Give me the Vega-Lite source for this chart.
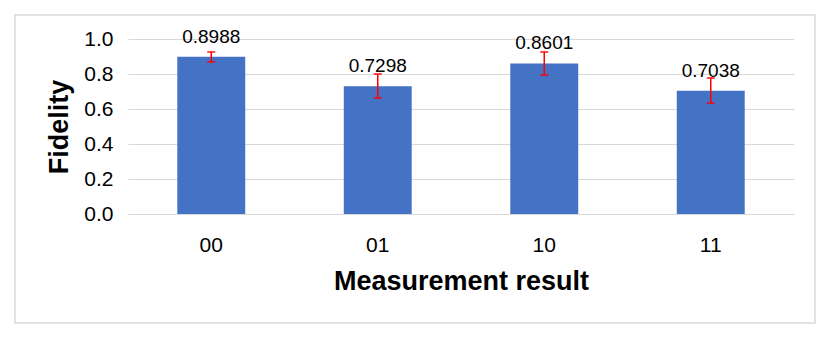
{
  "$schema": "https://vega.github.io/schema/vega-lite/v6.json",
  "width": 800,
  "height": 308,
  "autosize": {"type": "none"},
  "padding": {"left": 15, "top": 15, "right": 15, "bottom": 15},
  "background": "white",
  "data": {
    "values": [
      {"result": "00", "fidelity": 0.8988, "lo": 0.869, "hi": 0.926},
      {"result": "01", "fidelity": 0.7298, "lo": 0.663, "hi": 0.800},
      {"result": "10", "fidelity": 0.8601, "lo": 0.794, "hi": 0.926},
      {"result": "11", "fidelity": 0.7038, "lo": 0.634, "hi": 0.777}
    ]
  },
  "encoding": {
    "x": {
      "field": "result",
      "type": "nominal",
      "sort": null,
      "scale": {"range": [113, 779], "paddingInner": 0.592, "paddingOuter": 0.296},
      "axis": {
        "title": "Measurement result",
        "labelAngle": 0,
        "offset": -109,
        "labelPadding": 20,
        "titlePadding": 13,
        "ticks": false,
        "domain": false,
        "grid": false,
        "labelFont": "Liberation Sans",
        "labelFontSize": 21,
        "labelColor": "#000000",
        "titleFont": "Liberation Sans",
        "titleFontSize": 27,
        "titleFontWeight": "bold",
        "titleColor": "#000000"
      }
    }
  },
  "layer": [
    {
      "mark": {"type": "bar", "color": "#4472C4"},
      "encoding": {
        "y": {
          "field": "fidelity",
          "type": "quantitative",
          "scale": {"domain": [0, 1], "range": [199, 24], "nice": false},
          "axis": {
            "title": "Fidelity",
            "values": [0, 0.2, 0.4, 0.6, 0.8, 1.0],
            "format": ".1f",
            "offset": -113,
            "labelPadding": 15,
            "titlePadding": 10,
            "ticks": false,
            "domain": false,
            "grid": true,
            "gridColor": "#d9d9d9",
            "gridWidth": 1,
            "labelFont": "Liberation Sans",
            "labelFontSize": 21,
            "labelColor": "#000000",
            "titleFont": "Liberation Sans",
            "titleFontSize": 27,
            "titleFontWeight": "bold",
            "titleColor": "#000000"
          }
        }
      }
    },
    {
      "mark": {"type": "rule", "color": "#FF0000", "strokeWidth": 1.5},
      "encoding": {
        "y": {"field": "lo", "type": "quantitative"},
        "y2": {"field": "hi"}
      }
    },
    {
      "mark": {"type": "tick", "color": "#FF0000", "size": 8, "thickness": 2},
      "encoding": {
        "y": {"field": "lo", "type": "quantitative"}
      }
    },
    {
      "mark": {"type": "tick", "color": "#FF0000", "size": 8, "thickness": 2},
      "encoding": {
        "y": {"field": "hi", "type": "quantitative"}
      }
    },
    {
      "mark": {"type": "text", "font": "Liberation Sans", "fontSize": 19, "baseline": "alphabetic", "dy": -14, "color": "#000000"},
      "encoding": {
        "y": {"field": "fidelity", "type": "quantitative"},
        "text": {"field": "fidelity", "type": "quantitative", "format": ".4f"}
      }
    }
  ],
  "config": {
    "view": {"stroke": "#d9d9d9", "strokeWidth": 1.5}
  }
}
